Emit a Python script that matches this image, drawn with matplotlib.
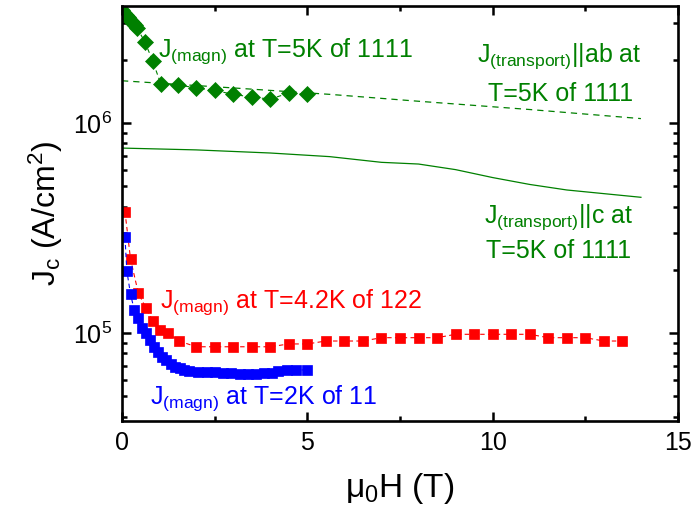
import matplotlib
matplotlib.use("Agg")
import matplotlib.pyplot as plt
from matplotlib.ticker import LogLocator, NullFormatter, MultipleLocator

plt.rcParams['font.family'] = ['Liberation Sans', 'DejaVu Sans']
plt.rcParams['mathtext.fontset'] = 'custom'
plt.rcParams['mathtext.rm'] = 'Liberation Sans'
plt.rcParams['mathtext.it'] = 'Liberation Sans:italic'
plt.rcParams['mathtext.bf'] = 'Liberation Sans:bold'

GREEN = '#008000'
RED = '#ff0000'
BLUE = '#0000ff'

# 1111, magnetization, T=5K
h_1111 = [0.0, 0.05, 0.1, 0.15, 0.2, 0.25, 0.3, 0.35, 0.4, 0.62, 0.83, 1.05,
          1.5, 2.0, 2.5, 3.0, 3.5, 4.0, 4.5, 5.0]
jc_1111 = [3.45e6, 3.35e6, 3.27e6, 3.2e6, 3.12e6, 3.05e6, 2.98e6, 2.92e6, 2.85e6,
           2.43e6, 1.97e6, 1.53e6, 1.52e6, 1.47e6, 1.43e6, 1.37e6, 1.33e6, 1.30e6,
           1.39e6, 1.37e6]

# 122, magnetization, T=4.2K
h_122 = [0.08, 0.23, 0.44, 0.65, 0.83, 1.03, 1.23, 1.54, 2.0, 2.5, 3.0, 3.5, 4.0,
         4.5, 5.0, 5.5, 6.0, 6.5, 7.0, 7.5, 8.0, 8.5, 9.0, 9.5, 10.0, 10.5, 11.0,
         11.5, 12.0, 12.5, 13.0, 13.5]
jc_122 = [3.79e5, 2.25e5, 1.55e5, 1.31e5, 1.14e5, 1.03e5, 1.0e5, 9.16e4, 8.6e4,
          8.6e4, 8.6e4, 8.6e4, 8.6e4, 8.87e4, 8.87e4, 9.16e4, 9.16e4, 9.16e4,
          9.5e4, 9.5e4, 9.5e4, 9.5e4, 9.86e4, 9.86e4, 9.86e4, 9.86e4, 9.86e4,
          9.5e4, 9.5e4, 9.5e4, 9.16e4, 9.16e4]

# 11, magnetization, T=2K
h_11 = [0.08, 0.13, 0.23, 0.33, 0.44, 0.55, 0.65, 0.76, 0.86, 0.97, 1.08, 1.2,
        1.32, 1.44, 1.56, 1.68, 1.82, 2.05, 2.28, 2.51, 2.73, 2.95, 3.17, 3.39,
        3.61, 3.83, 4.05, 4.22, 4.44, 4.7, 5.0]
jc_11 = [2.86e5, 1.98e5, 1.53e5, 1.29e5, 1.18e5, 1.06e5, 9.97e4, 9.26e4, 8.6e4,
         8.15e4, 7.71e4, 7.4e4, 7.1e4, 6.92e4, 6.8e4, 6.7e4, 6.62e4, 6.55e4,
         6.51e4, 6.49e4, 6.45e4, 6.42e4, 6.40e4, 6.40e4, 6.40e4, 6.42e4, 6.43e4,
         6.6e4, 6.65e4, 6.67e4, 6.67e4]

# 1111 transport, H || ab
h_ab = [0.0, 3.0, 5.6, 8.0, 11.0, 14.0]
jc_ab = [1.59e6, 1.47e6, 1.37e6, 1.27e6, 1.16e6, 1.05e6]

# 1111 transport, H || c
h_c = [0.0, 2.0, 4.0, 5.6, 7.0, 8.0, 9.0, 10.0, 11.0, 12.0, 14.0]
jc_c = [7.6e5, 7.45e5, 7.2e5, 6.92e5, 6.5e5, 6.38e5, 6.0e5, 5.5e5, 5.1e5, 4.8e5, 4.43e5]

x_ticks = [0, 5, 10, 15]

fig = plt.figure(figsize=(6.94, 5.12), dpi=100)
ax = fig.add_axes([122/694, 1-421/512, (678-122)/694, (421-6)/512])

ax.plot(h_ab, jc_ab, color=GREEN, lw=0.9, ls=(0, (5, 4)))
ax.plot(h_c, jc_c, color=GREEN, lw=0.9, ls='-')
ax.plot(h_1111, jc_1111, color=GREEN, lw=0.8, ls=(0, (4, 3)), marker='D', ms=8.5,
        mfc=GREEN, mec=GREEN, mew=0.5)
ax.plot(h_122, jc_122, color=RED, lw=0.8, ls=(0, (4, 3)), marker='s', ms=6.5,
        mfc=RED, mec=RED, mew=0.5)
ax.plot(h_11, jc_11, color=BLUE, lw=0.8, ls=(0, (4, 3)), marker='s', ms=6.5,
        mfc=BLUE, mec=BLUE, mew=0.5)

ax.set_yscale('log')
ax.set_xlim(0, 15)
ax.set_ylim(3.81e4, 3.61e6)
ax.set_xticks(x_ticks)
ax.set_xticklabels([str(t) for t in x_ticks])
ax.xaxis.set_minor_locator(MultipleLocator(2.5))
ax.yaxis.set_major_locator(LogLocator(base=10, numticks=10))
ax.yaxis.set_minor_locator(LogLocator(base=10, subs=[2, 3, 4, 5, 6, 7, 8, 9], numticks=20))
ax.yaxis.set_minor_formatter(NullFormatter())

for s in ax.spines.values():
    s.set_linewidth(1.9)
ax.tick_params(which='both', direction='in', top=True, right=True, width=1.8, labelsize=18)
ax.tick_params(which='major', length=6.5, pad=7)
ax.tick_params(which='minor', length=3.8)

ax.set_xlabel(r'$\mathregular{\mu_0}$H (T)', fontsize=24, labelpad=12)
ax.set_ylabel(r'J$_\mathregular{c}$ (A/cm$^\mathregular{2}$)', fontsize=23, labelpad=6)

tkw = dict(transform=ax.transAxes, fontsize=18, va='baseline')
ax.text(0.0647, 0.877, r'J$_\mathregular{(magn)}$ at T=5K of 1111', color=GREEN, ha='left', **tkw)
ax.text(0.068, 0.272, r'J$_\mathregular{(magn)}$ at T=4.2K of 122', color=RED, ha='left', **tkw)
ax.text(0.051, 0.041, r'J$_\mathregular{(magn)}$ at T=2K of 11', color=BLUE, ha='left', **tkw)
ax.text(0.787, 0.865, r'J$_\mathregular{(transport)}$||ab at', color=GREEN, ha='center', **tkw)
ax.text(0.789, 0.771, 'T=5K of 1111', color=GREEN, ha='center', **tkw)
ax.text(0.785, 0.477, r'J$_\mathregular{(transport)}$||c at', color=GREEN, ha='center', **tkw)
ax.text(0.786, 0.393, 'T=5K of 1111', color=GREEN, ha='center', **tkw)

fig.savefig('out.png', dpi=100)
